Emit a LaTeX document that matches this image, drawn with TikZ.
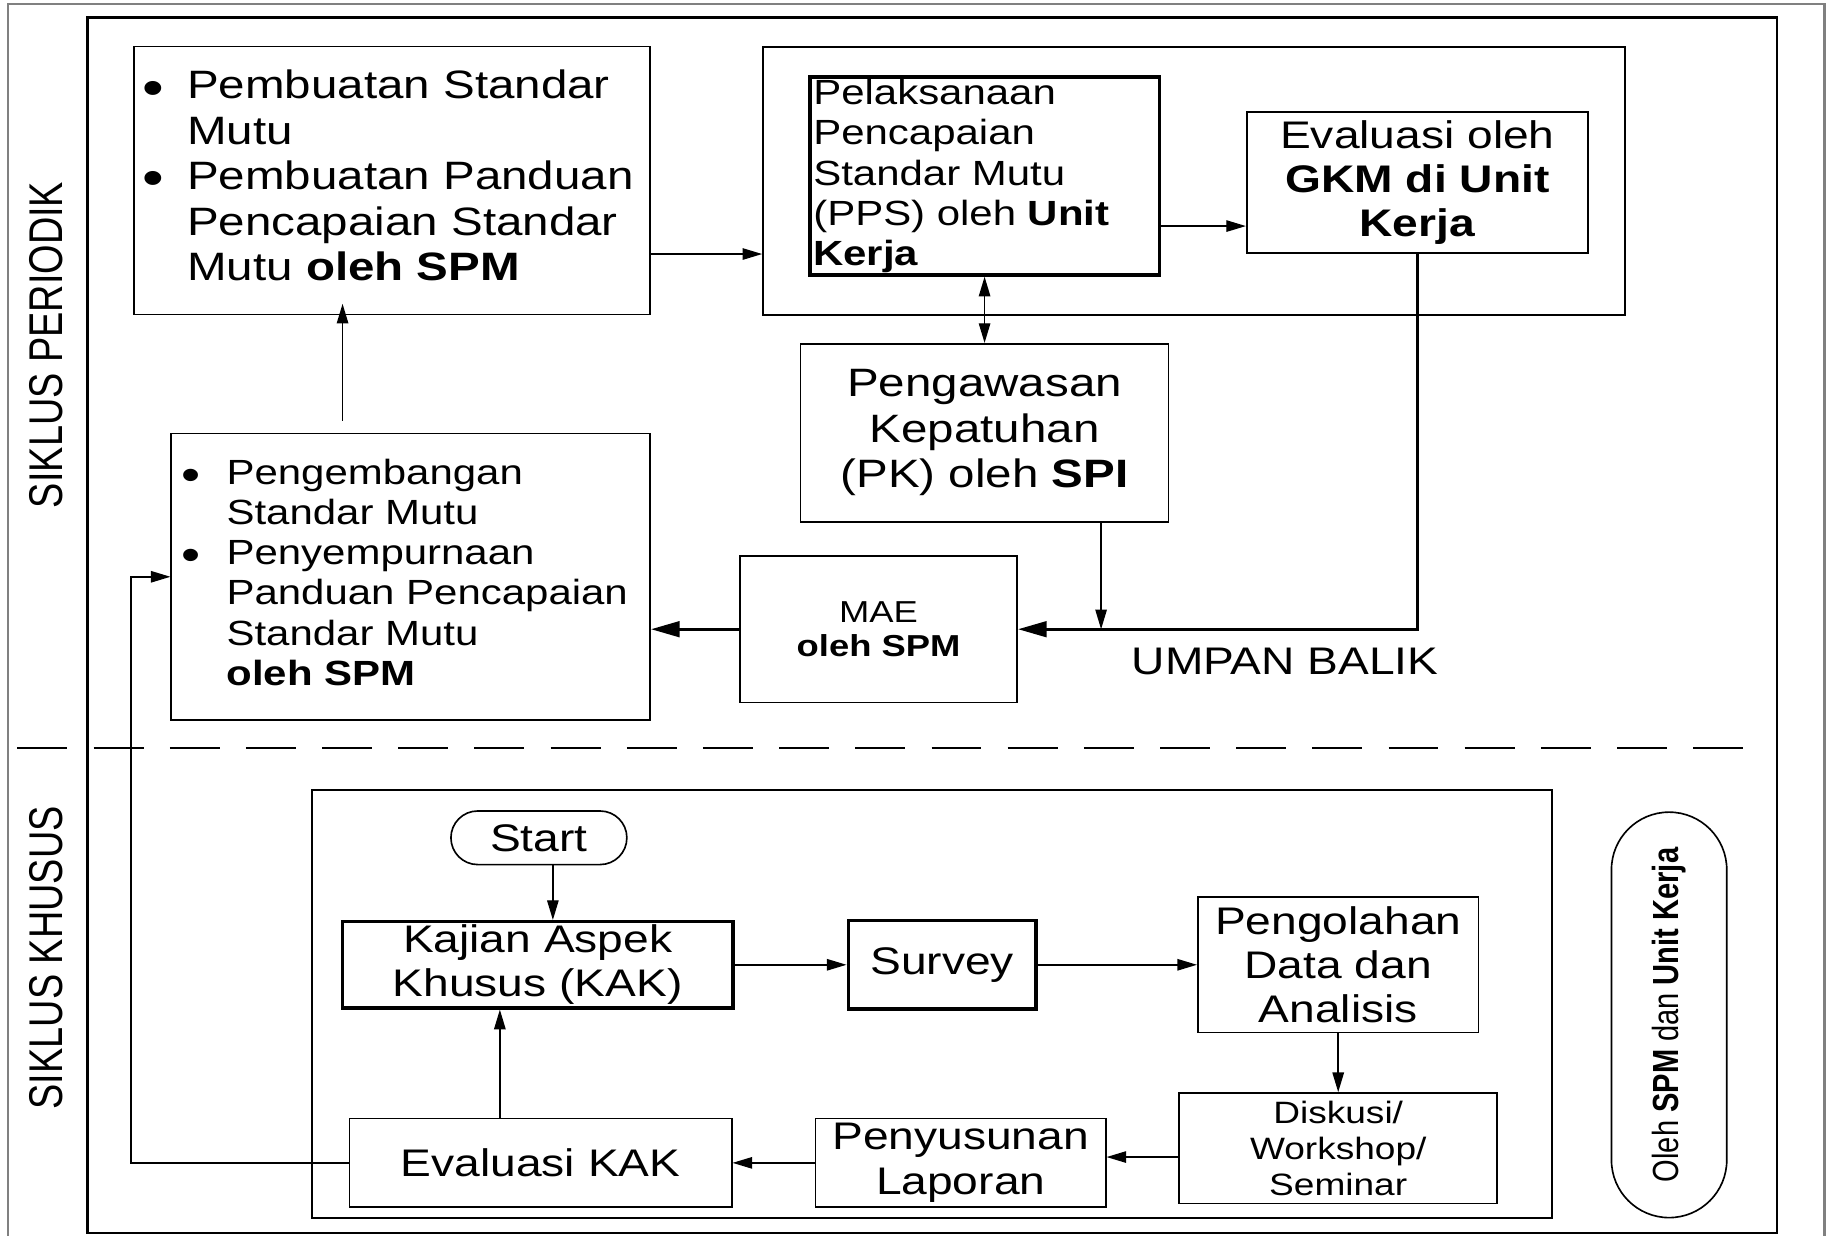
\documentclass[tikz,border=0pt]{standalone}
\usepackage{graphicx}
\usepackage{fontspec}
\setmainfont[FakeStretch=1.2]{Liberation Sans}
\newfontfamily\plainsf{Liberation Sans}
\usetikzlibrary{arrows.meta}

\newcommand{\txtbig}{\fontsize{9.67}{11.1}\selectfont}
\newcommand{\txtmid}{\fontsize{9.39}{10.8}\selectfont}
\newcommand{\txtsml}{\fontsize{8.54}{9.8}\selectfont}
\newcommand{\txtmae}{\fontsize{7.4}{8.5}\selectfont}
\newcommand{\txtdisk}{\fontsize{7.54}{8.8}\selectfont}
\newcommand{\txtside}{\plainsf\fontsize{9.25}{11}\selectfont}
\newcommand{\txtoleh}{\plainsf\fontsize{7.1}{8.5}\selectfont}
\newcommand{\bigdot}{\raisebox{-0.3ex}{\scalebox{1.3}{\textbullet}}}

\begin{document}
\begin{tikzpicture}[x=0.1mm,y=-0.1mm,
	thinbox/.style={draw,line width=0.4pt,inner sep=0pt},
	thickbox/.style={draw,line width=0.85pt,inner sep=0pt},
	arr/.style={-{Triangle[length=4.8pt,width=2.8pt]},line width=0.35pt},
	dblarr/.style={{Triangle[length=4.8pt,width=2.8pt]}-{Triangle[length=4.8pt,width=2.8pt]},line width=0.35pt},
	bigarr/.style={-{Triangle[length=7pt,width=3.8pt]},line width=0.75pt}]

	\useasboundingbox (0,0) rectangle (1568,1060);
	\draw[gray,line width=0.6pt] (7,1062) -- (7,3.5) -- (1566,3.5) -- (1566,1062);
	\draw[line width=0.55pt] (75,15) rectangle (1525,1058);
	\draw[line width=0.65pt,dash pattern=on 12.2pt off 6.4pt] (15,642) -- (1499,642);

	\node[rotate=90,font=\txtside] (periodik) at (40,296) {\scalebox{1}[1.25]{SIKLUS PERIODIK}};
	\node[rotate=90,font=\txtside] (khusus) at (40,822) {\scalebox{1}[1.25]{SIKLUS KHUSUS}};

	% siklus periodik
	\node[thinbox,minimum width=44.3mm,minimum height=23mm,font=\txtbig] (buat) at (336.5,155)
		{\begin{tabular}{@{}l@{\hspace{2.0mm}}l@{\hspace{0.7mm}}}
			\bigdot & Pembuatan Standar\\
			& Mutu\\
			\bigdot & Pembuatan Panduan\\
			& Pencapaian Standar\\
			& Mutu \textbf{oleh SPM}
		\end{tabular}};
	\node[thinbox,line width=0.5pt,minimum width=74mm,minimum height=23mm] (impl) at (1025,155) {};
	\node[thickbox,minimum width=30mm,minimum height=17mm,text width=29.4mm,inner xsep=0.3mm,align=left,font=\txtsml] (pps) at (845,151)
		{Pelaksanaan\\Pencapaian\\Standar Mutu\\(PPS) oleh \textbf{Unit}\\\textbf{Kerja}};
	\node[thinbox,minimum width=29.3mm,minimum height=12.1mm,align=center,font=\txtmid] (gkm) at (1216.5,156.5)
		{Evaluasi oleh\\\textbf{GKM di Unit}\\\textbf{Kerja}};
	\node[thinbox,minimum width=31.6mm,minimum height=15.3mm,align=center,font=\txtbig] (pk) at (845,371.5)
		{Pengawasan\\Kepatuhan\\(PK) oleh \textbf{SPI}};
	\node[thinbox,minimum width=23.8mm,minimum height=12.6mm,align=center,font=\txtmae] (mae) at (754,540)
		{MAE\\\textbf{oleh SPM}};
	\node[thinbox,minimum width=41.1mm,minimum height=24.6mm,font=\txtsml] (dev) at (352.5,495)
		{\begin{tabular}{@{}l@{\hspace{2.2mm}}l@{\hspace{1.0mm}}}
			\bigdot & Pengembangan\\
			& Standar Mutu\\
			\bigdot & Penyempurnaan\\
			& Panduan Pencapaian\\
			& Standar Mutu\\
			& \textbf{oleh SPM}
		\end{tabular}};
	\node[font=\txtmid] (umpan) at (1103,568) {UMPAN BALIK};

	\draw[arr] ([yshift=-6.3mm]buat.east) -- ([yshift=-6.3mm]buat.east -| impl.west);
	\draw[arr] ([yshift=-4.3mm]pps.east) -- ([yshift=-4.3mm]pps.east -| gkm.west);
	\draw[dblarr] (pps.south) -- (pps.south |- pk.north);
	\draw[bigarr] (gkm.south) |- (mae.east);
	\draw[arr] ([xshift=10mm]pk.south) -- ([xshift=10mm]pk.south |- mae.east);
	\draw[bigarr] (mae.west) -- (mae.west -| dev.east);
	\draw[arr] ([xshift=-5.85mm,yshift=1mm]dev.north) -- ([xshift=-5.85mm,yshift=1mm]dev.north |- buat.south);

	% siklus khusus
	\draw[line width=0.5pt] (268,678) rectangle (1332,1045);
	\node[thinbox,rounded corners=2.3mm,minimum width=15.1mm,minimum height=4.6mm,font=\txtmid] (start) at (462.5,719) {Start};
	\node[thickbox,minimum width=33.5mm,minimum height=7.4mm,align=center,font=\txtmid] (kak) at (461.5,828)
		{Kajian Aspek\\Khusus (KAK)};
	\node[thickbox,minimum width=16.1mm,minimum height=7.6mm,font=\txtmid] (survey) at (808.5,828) {Survey};
	\node[thinbox,minimum width=24.1mm,minimum height=11.6mm,align=center,font=\txtmid] (olah) at (1148.5,828)
		{Pengolahan\\Data dan\\Analisis};
	\node[thinbox,minimum width=27.3mm,minimum height=9.5mm,align=center,font=\txtdisk] (disk) at (1148.5,985.5)
		{Diskusi/\\Workshop/\\Seminar};
	\node[thinbox,minimum width=24.9mm,minimum height=7.6mm,align=center,font=\txtmid] (lapor) at (824.5,998)
		{Penyusunan\\Laporan};
	\node[thinbox,minimum width=32.8mm,minimum height=7.6mm,font=\txtmid] (evkak) at (464,998) {Evaluasi KAK};
	\node[thinbox,rounded corners=4.95mm,minimum width=34.8mm,minimum height=9.9mm,rotate=90,font=\txtoleh] (oleh) at (1432.5,871)
		{\scalebox{1}[1.25]{Oleh \textbf{SPM} dan \textbf{Unit Kerja}}};

	\draw[arr] ([xshift=1.2mm]start.south) -- ([xshift=1.2mm]start.south |- kak.north);
	\draw[arr] (kak.east) -- (survey.west);
	\draw[arr] (survey.east) -- (olah.west);
	\draw[arr] (olah.south) -- (disk.north);
	\draw[arr] ([yshift=-0.75mm]disk.west) -- ([yshift=-0.75mm]disk.west -| lapor.east);
	\draw[arr] (lapor.west) -- (evkak.east);
	\draw[arr] ([xshift=-3.5mm]evkak.north) -- ([xshift=-3.5mm]evkak.north |- kak.south);
	\draw[arr] (evkak.west) -- ([xshift=-3.4mm]dev.west |- evkak.west) |- (dev.west);
\end{tikzpicture}
\end{document}
